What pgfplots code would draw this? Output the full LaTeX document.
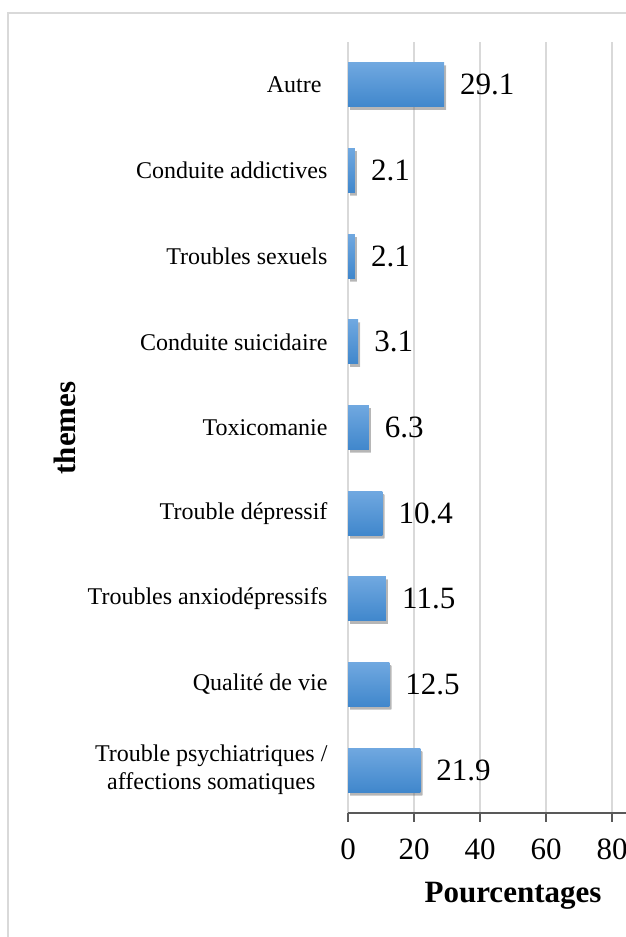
\documentclass[border=0pt]{standalone}
\usepackage{pgfplots}
\pgfplotsset{compat=1.18}
\usepackage{fontspec}
\setmainfont{Liberation Serif}
\usetikzlibrary{shadows}
\definecolor{gridc}{RGB}{217,217,217}
\definecolor{axc}{RGB}{89,89,89}
\definecolor{bartop}{RGB}{112,168,224}
\definecolor{barbot}{RGB}{64,135,204}
\begin{document}
\begin{tikzpicture}
\useasboundingbox (0pt,0pt) rectangle (626pt,937pt);
\clip (0pt,0pt) rectangle (626pt,937pt);
% outer frame
\draw[gridc, line width=1.5pt] (8pt,-10pt) -- (8pt,924pt) -- (640pt,924pt);
\begin{axis}[
  at={(348pt,124pt)}, anchor=south west,
  width=330pt, height=771pt, scale only axis,
  xbar, bar width=44pt, bar shift=0pt,
  xmin=0, xmax=100,
  ymin=0.5, ymax=9.5,
  axis line style={draw=none},
  xtick={0,20,40,60,80,100},
  xtick pos=bottom,
  ytick={1,2,3,4,5,6,7,8,9},
  yticklabels={{Trouble psychiatriques /\\affections somatiques},{Qualité de vie},{Troubles anxiodépressifs},{Trouble dépressif},{Toxicomanie},{Conduite suicidaire},{Troubles sexuels},{Conduite addictives},{Autre\hspace*{6pt}}},
  ytick style={draw=none},
  xtick style={draw=axc, line width=1.3pt},
  tick align=outside,
  major tick length=9pt,
  xmajorgrids,
  grid style={draw=gridc, line width=1.5pt},
  /pgf/number format/assume math mode=true,
  xticklabel style={font=\fontsize{31}{36}\selectfont, yshift=-13pt},
  yticklabel style={font=\fontsize{24}{28}\selectfont, align=center, xshift=-8pt},
  nodes near coords,
  nodes near coords style={font=\fontsize{31}{36}\selectfont, anchor=west, inner sep=0pt, xshift=16pt},
  point meta=explicit symbolic,
  clip=false,
  barsty/.style={draw=none, top color=bartop, bottom color=barbot,
    drop shadow={opacity=0.3, top color=black!60, bottom color=black!60, shadow xshift=2pt, shadow yshift=-3pt}},
]
\addplot[barsty] coordinates {(21.9,1)[21.9]};
\addplot[barsty] coordinates {(12.5,2)[12.5]};
\addplot[barsty] coordinates {(11.5,3)[11.5]};
\addplot[barsty] coordinates {(10.4,4)[10.4]};
\addplot[barsty] coordinates {(6.3,5)[6.3]};
\addplot[barsty] coordinates {(3.1,6)[3.1]};
\addplot[barsty] coordinates {(2.1,7)[2.1]};
\addplot[barsty] coordinates {(2.1,8)[2.1]};
\addplot[barsty] coordinates {(29.1,9)[29.1]};
\draw[axc, line width=1.3pt] (axis cs:0,0.5) -- (axis cs:100,0.5);
\end{axis}
\node[font=\fontsize{31}{36}\selectfont\bfseries] at (513pt,41pt) {Pourcentages};
\node[font=\fontsize{31}{36}\selectfont\bfseries, rotate=90] at (65pt,509pt) {themes};
\end{tikzpicture}
\end{document}
